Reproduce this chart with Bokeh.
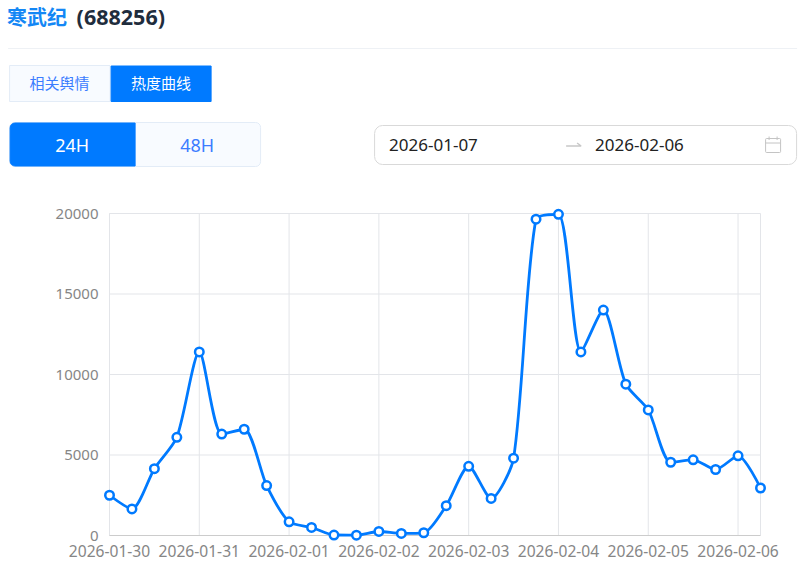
import pandas as pd
from bokeh.embed import file_html
from bokeh.resources import INLINE
from bokeh.plotting import figure
from bokeh.models import Range1d, FixedTicker
from bokeh.core.properties import value

company = "寒武纪"
code = "(688256)"
tabs = ["相关舆情", "热度曲线"]
periods = ["24H", "48H"]
date_from = "2026-01-07"
date_to = "2026-02-06"

times = pd.date_range("2026-01-30 00:00", periods=30, freq="6h")
heat = [2500, 1650, 4150, 6100, 11400, 6300, 6600, 3100,
        850, 500, 30, 20, 250, 130, 170, 1850,
        4300, 2300, 4800, 19650, 19950, 11400, 14000, 9400,
        7800, 4550, 4700, 4100, 4950, 2950]
y_ticks = [0, 5000, 10000, 15000, 20000]
x_tick_labels = ["2026-01-30", "2026-01-31", "2026-02-01", "2026-02-02",
                 "2026-02-03", "2026-02-04", "2026-02-05", "2026-02-06"]

BLUE = "#007AFF"
LABEL = "#3B7DFF"
CJK = "Noto Sans CJK SC"
LATIN = "Noto Sans"

# ---------- header ----------
h = figure(width=809, height=200, x_range=Range1d(0.4, 809.4), y_range=Range1d(200.5, 0.5),
           output_backend="svg", toolbar_location=None, min_border=0,
           x_axis_type=None, y_axis_type=None)
h.grid.visible = False
h.outline_line_color = None


def txt(x, y, s, color, size, font=CJK, style="normal", align="left"):
    h.text([x], [y], text=[s], text_color=color, text_font=value(font),
           text_font_size=size, text_font_style=style, text_align=align,
           text_baseline="middle")


def box(l, r, t, b, fill, line, radius=0):
    h.quad(left=[l], right=[r], top=[t], bottom=[b], fill_color=fill,
           line_color=line, line_width=1, border_radius=radius)


txt(7, 16.5, company, "#1487F5", "20px", style="bold")
txt(76.5, 16.5, code, "#1F2D3D", "21.5px", font=LATIN, style="bold")
h.segment([8], [48.5], [797], [48.5], line_color="#EEF1F5", line_width=1)

box(9.5, 110, 65.5, 101.5, "#F8FBFF", "#E3ECF7")
box(111, 211, 66, 101.5, BLUE, BLUE)
txt(59.5, 82.5, tabs[0], LABEL, "15px", align="center")
txt(161, 82.5, tabs[1], "#FFFFFF", "15px", align="center")

box(9.5, 260.5, 122.5, 166.5, "#F8FBFF", "#E3ECF7", 5)
box(10, 135, 123, 166, BLUE, BLUE, {"top_left": 5, "bottom_left": 5})
txt(72, 144.5, periods[0], "#FFFFFF", "18px", font=LATIN, align="center")
txt(197, 144.5, periods[1], LABEL, "18px", font=LATIN, align="center")

box(374.5, 796.5, 125.5, 164.5, "#FFFFFF", "#D9D9D9", 8)
txt(389, 145, date_from, "#222222", "17px", font=LATIN)
txt(595, 145, date_to, "#222222", "17px", font=LATIN)
h.line([566, 581, 577], [146, 146, 143], line_color="#C8C8C8", line_width=1.5)
box(765.5, 780.5, 138.5, 152.5, None, "#C4C4C4", 1)
h.segment([765.5, 769, 777], [143, 136.5, 136.5], [780.5, 769, 777], [143, 140, 140],
          line_color="#C4C4C4", line_width=1)

# ---------- chart ----------
hours = [(t - times[0]).total_seconds() / 3600 for t in times]
tick_hours = [24.0 * i for i in range(len(x_tick_labels))]

PAD = 8                       # px of room round the grid so end markers are not clipped
PLOT_W, PLOT_H = 651, 322
sx = PLOT_W / hours[-1]
sy = PLOT_H / y_ticks[-1]
x_pad, y_pad = PAD / sx, PAD / sy

p = figure(width=809, height=363, frame_width=PLOT_W + 2 * PAD, frame_height=PLOT_H + 2 * PAD,
           x_range=Range1d(hours[0] - x_pad, hours[-1] + x_pad),
           y_range=Range1d(-y_pad, y_ticks[-1] + y_pad),
           output_backend="svg", toolbar_location=None,
           min_border_left=101, min_border_right=41, min_border_top=5, min_border_bottom=25)
p.outline_line_color = None
p.grid.visible = False
p.xaxis.ticker = FixedTicker(ticks=tick_hours)
p.xaxis.major_label_overrides = dict(zip(tick_hours, x_tick_labels))
p.yaxis.ticker = FixedTicker(ticks=y_ticks)
for ax in (p.xaxis[0], p.yaxis[0]):
    ax.major_tick_line_color = None
    ax.major_tick_out = 0
    ax.major_tick_in = 0
    ax.minor_tick_line_color = None
    ax.axis_line_color = None
    ax.major_label_text_color = "#868686"
    ax.major_label_text_font = LATIN
p.yaxis.major_label_text_font_size = "15px"
p.xaxis.major_label_text_font_size = "15.6px"
p.yaxis.major_label_standoff = 3
p.xaxis.major_label_standoff = 1

GRID = "#E3E5E9"
grid_xs = [hours[0]] + tick_hours + [hours[-1]]
p.segment(grid_xs, [y_ticks[0]] * len(grid_xs), grid_xs, [y_ticks[-1]] * len(grid_xs),
          line_color=GRID, line_width=1)
p.segment([hours[0]] * 4, y_ticks[1:], [hours[-1]] * 4, y_ticks[1:],
          line_color=GRID, line_width=1)
p.segment([hours[0]], [y_ticks[0]], [hours[-1]], [y_ticks[0]],
          line_color="#CCCCCC", line_width=1)


def smooth_curve(xs, ys, sx, sy, smooth=0.25):
    """Cubic control points between consecutive data points, constrained so no
    segment overshoots its end values. Works in pixel proportions."""
    n = len(xs)
    P = [(a * sx, b * sy) for a, b in zip(xs, ys)]
    x0, y0, x1, y1, c0x, c0y, c1x, c1y = [], [], [], [], [], [], [], []
    cx, cy = P[0]
    for i in range(1, n):
        x, y = P[i]
        if i == n - 1:
            inx, iny, nx, ny = x, y, x, y
        else:
            px, py = P[i - 1]
            qx, qy = P[i + 1]
            vx, vy = qx - px, qy - py
            lp = ((x - px) ** 2 + (y - py) ** 2) ** 0.5
            ln = ((qx - x) ** 2 + (qy - y) ** 2) ** 0.5
            r = ln / (ln + lp)
            nx = max(min(x + vx * smooth * r, max(qx, x)), min(qx, x))
            ny = max(min(y + vy * smooth * r, max(qy, y)), min(qy, y))
            vx, vy = nx - x, ny - y
            inx = x - vx * lp / ln
            iny = y - vy * lp / ln
            inx = max(min(inx, max(px, x)), min(px, x))
            iny = max(min(iny, max(py, y)), min(py, y))
            vx, vy = x - inx, y - iny
            nx = x + vx * ln / lp
            ny = y + vy * ln / lp
        x0.append(P[i - 1][0] / sx); y0.append(P[i - 1][1] / sy)
        x1.append(x / sx); y1.append(y / sy)
        c0x.append(cx / sx); c0y.append(cy / sy)
        c1x.append(inx / sx); c1y.append(iny / sy)
        cx, cy = nx, ny
    return dict(x0=x0, y0=y0, x1=x1, y1=y1, cx0=c0x, cy0=c0y, cx1=c1x, cy1=c1y)


curve = smooth_curve(hours, heat, sx, sy)
p.bezier(line_color=BLUE, line_width=2.8, **curve)
p.scatter(hours, heat, size=8.5, fill_color="#FFFFFF", line_color=BLUE, line_width=2.5)

open("out.html", "w").write(file_html([h, p], INLINE))
